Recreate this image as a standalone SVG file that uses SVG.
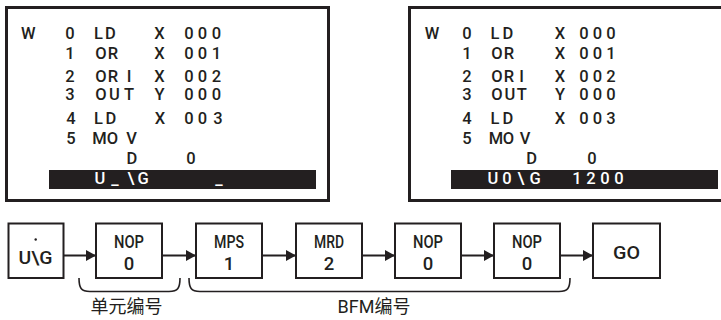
<svg xmlns="http://www.w3.org/2000/svg" width="721" height="320" viewBox="0 0 721 320">
  <style>
    .frame { fill: #ffffff; stroke: #231f20; stroke-width: 3; }
    .bar { fill: #231f20; }
    .scr { font-family: Roboto, "DejaVu Sans", sans-serif; font-size: 16.5px; font-weight: 500; fill: #231f20; text-anchor: middle; }
    .inv { fill: #ffffff; }
    .box { fill: #ffffff; stroke: #231f20; stroke-width: 2; }
    .lbl { font-family: Roboto, "DejaVu Sans", sans-serif; font-size: 18.5px; font-weight: 500; fill: #231f20; text-anchor: middle; }
    .cjk { font-family: Roboto, "Noto Sans CJK SC", sans-serif; font-size: 18px; fill: #231f20; text-anchor: middle; }
    .wire { fill: none; stroke: #231f20; stroke-width: 2; }
    .brace { fill: none; stroke: #231f20; stroke-width: 1.6; }
  </style>
  <defs>
    <marker id="arrow" markerUnits="userSpaceOnUse" markerWidth="11" markerHeight="11" refX="10" refY="5.5" orient="auto">
      <path d="M0,0 L10,5.5 L0,11 Z" fill="#231f20"/>
    </marker>
  </defs>

  <!-- Programming panel, before entry -->
  <g id="screen-left">
    <rect class="frame" x="6.5" y="7.5" width="322" height="193"/>
    <text class="scr" x="28.3 70 98.5 110.5 159.5 189 202.5 216.5" y="39">W0LDX000</text>
    <text class="scr" x="70 101 113 159.5 189 202.5 216.5" y="59">1ORX001</text>
    <text class="scr" x="70 101 113 129 159.5 189 202.5 216.5" y="82">2ORIX002</text>
    <text class="scr" x="70 101 114.5 129 159.5 189 202.5 216.5" y="100">3OUTY000</text>
    <text class="scr" x="71 98.5 111 160 189 202.5 218" y="124">4LDX003</text>
    <text class="scr" x="71 99.5 112.5 131.5" y="144">5MOV</text>
    <text class="scr" x="132 191" y="164">D0</text>
    <rect class="bar" x="49" y="170" width="267" height="19"/>
    <text class="scr inv" x="100 115 131 143 219" y="184 183.5 184 184 183.5">U_\G_</text>
  </g>

  <!-- Programming panel, after entry -->
  <g id="screen-right">
    <rect class="frame" x="409.5" y="7.5" width="330" height="193"/>
    <text class="scr" x="432 467 495 508 560 584 597.5 611" y="39">W0LDX000</text>
    <text class="scr" x="467 497 509 560 584 597.5 611" y="59">1ORX001</text>
    <text class="scr" x="467 497 509 521.7 560 584 597.5 611" y="82">2ORIX002</text>
    <text class="scr" x="467 497 510 521.7 560 584 597.5 611" y="100">3OUTY000</text>
    <text class="scr" x="467 495 508 560 584 597.5 611" y="124">4LDX003</text>
    <text class="scr" x="467 496 508.5 525" y="144">5MOV</text>
    <text class="scr" x="531.7 592" y="164">D0</text>
    <rect class="bar" x="451" y="170" width="267" height="19"/>
    <text class="scr inv" x="493 507 521 535 577 591 605 619" y="184">U0\G1200</text>
  </g>

  <!-- Key sequence -->
  <g id="key-ug">
    <rect class="box" x="8.5" y="223.5" width="55" height="54.5"/>
    <circle cx="35.7" cy="239.5" r="1.2" fill="#231f20"/>
    <text class="lbl" x="35.5" y="264" textLength="34" lengthAdjust="spacingAndGlyphs">U\G</text>
  </g>
  <g id="key-nop-unit">
    <rect class="box" x="96" y="223.5" width="66" height="54.5"/>
    <text class="lbl" x="129" y="248" textLength="30" lengthAdjust="spacingAndGlyphs">NOP</text>
    <text class="lbl" x="129" y="270">0</text>
  </g>
  <g id="key-mps">
    <rect class="box" x="196" y="223.5" width="66" height="54.5"/>
    <text class="lbl" x="229" y="248" textLength="30" lengthAdjust="spacingAndGlyphs">MPS</text>
    <text class="lbl" x="229" y="270">1</text>
  </g>
  <g id="key-mrd">
    <rect class="box" x="296" y="223.5" width="66" height="54.5"/>
    <text class="lbl" x="329" y="248" textLength="30" lengthAdjust="spacingAndGlyphs">MRD</text>
    <text class="lbl" x="329" y="270">2</text>
  </g>
  <g id="key-nop-a">
    <rect class="box" x="395" y="223.5" width="66" height="54.5"/>
    <text class="lbl" x="428" y="248" textLength="30" lengthAdjust="spacingAndGlyphs">NOP</text>
    <text class="lbl" x="428" y="270">0</text>
  </g>
  <g id="key-nop-b">
    <rect class="box" x="494" y="223.5" width="66" height="54.5"/>
    <text class="lbl" x="527" y="248" textLength="30" lengthAdjust="spacingAndGlyphs">NOP</text>
    <text class="lbl" x="527" y="270">0</text>
  </g>
  <g id="key-go">
    <rect class="box" x="593" y="223.5" width="67" height="54.5"/>
    <text class="lbl" x="626.5" y="259" textLength="27" lengthAdjust="spacingAndGlyphs">GO</text>
  </g>

  <g id="connectors">
    <line class="wire" x1="63.5" y1="255.5" x2="96" y2="255.5" marker-end="url(#arrow)"/>
    <line class="wire" x1="162" y1="255.5" x2="196" y2="255.5" marker-end="url(#arrow)"/>
    <line class="wire" x1="262" y1="255.5" x2="296" y2="255.5" marker-end="url(#arrow)"/>
    <line class="wire" x1="362" y1="255.5" x2="395" y2="255.5" marker-end="url(#arrow)"/>
    <line class="wire" x1="461" y1="255.5" x2="494" y2="255.5" marker-end="url(#arrow)"/>
    <line class="wire" x1="560" y1="255.5" x2="593" y2="255.5" marker-end="url(#arrow)"/>
  </g>

  <!-- Brackets grouping the key entries -->
  <g id="brace-unit">
    <path class="brace" d="M79,278 C79,288 81,291.5 90,291.5 L169,291.5 C178,291.5 180,288 180,278"/>
    <text class="cjk" x="126.5" y="313">单元编号</text>
  </g>
  <g id="brace-bfm">
    <path class="brace" d="M189,278 C189,288 191,291.5 200,291.5 L559,291.5 C568,291.5 570,288 570,278"/>
    <text class="cjk" x="374" y="313">BFM编号</text>
  </g>
</svg>
